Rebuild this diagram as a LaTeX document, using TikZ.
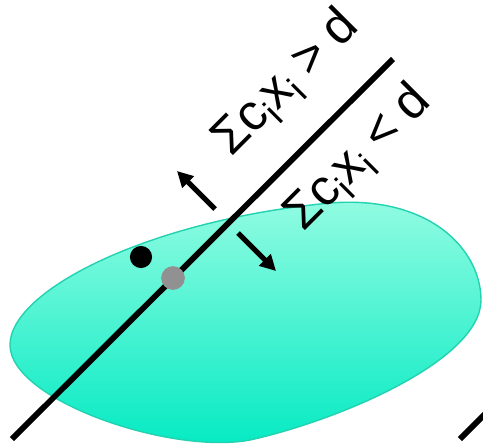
\documentclass[tikz,border=0pt]{standalone}
\usepackage{fontspec}
\setmainfont{Liberation Sans}
\usetikzlibrary{positioning, arrows.meta}
\definecolor{blobtop}{HTML}{94FCE2}
\definecolor{blobbot}{HTML}{00EAC2}
\definecolor{blobedge}{HTML}{22D2B0}

\newcommand{\subi}{\raisebox{-0.22em}{\fontsize{21}{21}\selectfont i}}
\newcommand{\sumlabel}[1]{Σc\subi x\subi\hspace{0.26em}#1\hspace{0.26em}d}

\begin{document}
\begin{tikzpicture}[x=0.02cm, y=-0.02cm, >={Triangle[length=9pt, width=9pt]},
  hyper/.style={line width=3.3pt, line cap=butt},
  normal/.style={->, line width=3pt},
  dot/.style={circle, inner sep=0pt, minimum size=12.6pt},
  ineq/.style={font=\fontsize{29}{29}\selectfont, rotate=45, inner sep=0pt, anchor=base west}]

\useasboundingbox (0,0) rectangle (483,444);

% --- convex region ---
\shade[top color=blobtop, bottom color=blobbot, draw=blobedge, line width=0.8pt]
  (10,345) .. controls (10,290) and (150,220) .. (330,203)
  .. controls (430,195) and (481,250) .. (481,300)
  .. controls (481,360) and (340,420) .. (250,440)
  .. controls (170,455) and (10,400) .. (10,345) -- cycle;

% --- separating hyperplanes ---
\coordinate (h1a) at (12,439);
\coordinate (h1b) at (393,59);
\draw[hyper] (h1a) -- (h1b);
\coordinate (h2a) at (460,439);
\coordinate (h2b) at (486,413);
\draw[hyper] (h2a) -- (h2b);

% --- normal directions ---
\coordinate (up0) at (215,209);
\coordinate (up1) at (177,171);
\draw[normal] (up0) -- (up1);
\coordinate (dn0) at (238,233);
\coordinate (dn1) at (276,271);
\draw[normal] (dn0) -- (dn1);

% --- points ---
\node[dot, fill=black] (xopt) at (141,257) {};
\node[dot, fill=black!43, minimum size=13.5pt] (xbd) at (173,278) {};

% --- half-space labels ---
\node[ineq] (above) at (231,158) {\sumlabel{>}};
\node[ineq] (below) at (303,233) {\sumlabel{<}};

\end{tikzpicture}
\end{document}
